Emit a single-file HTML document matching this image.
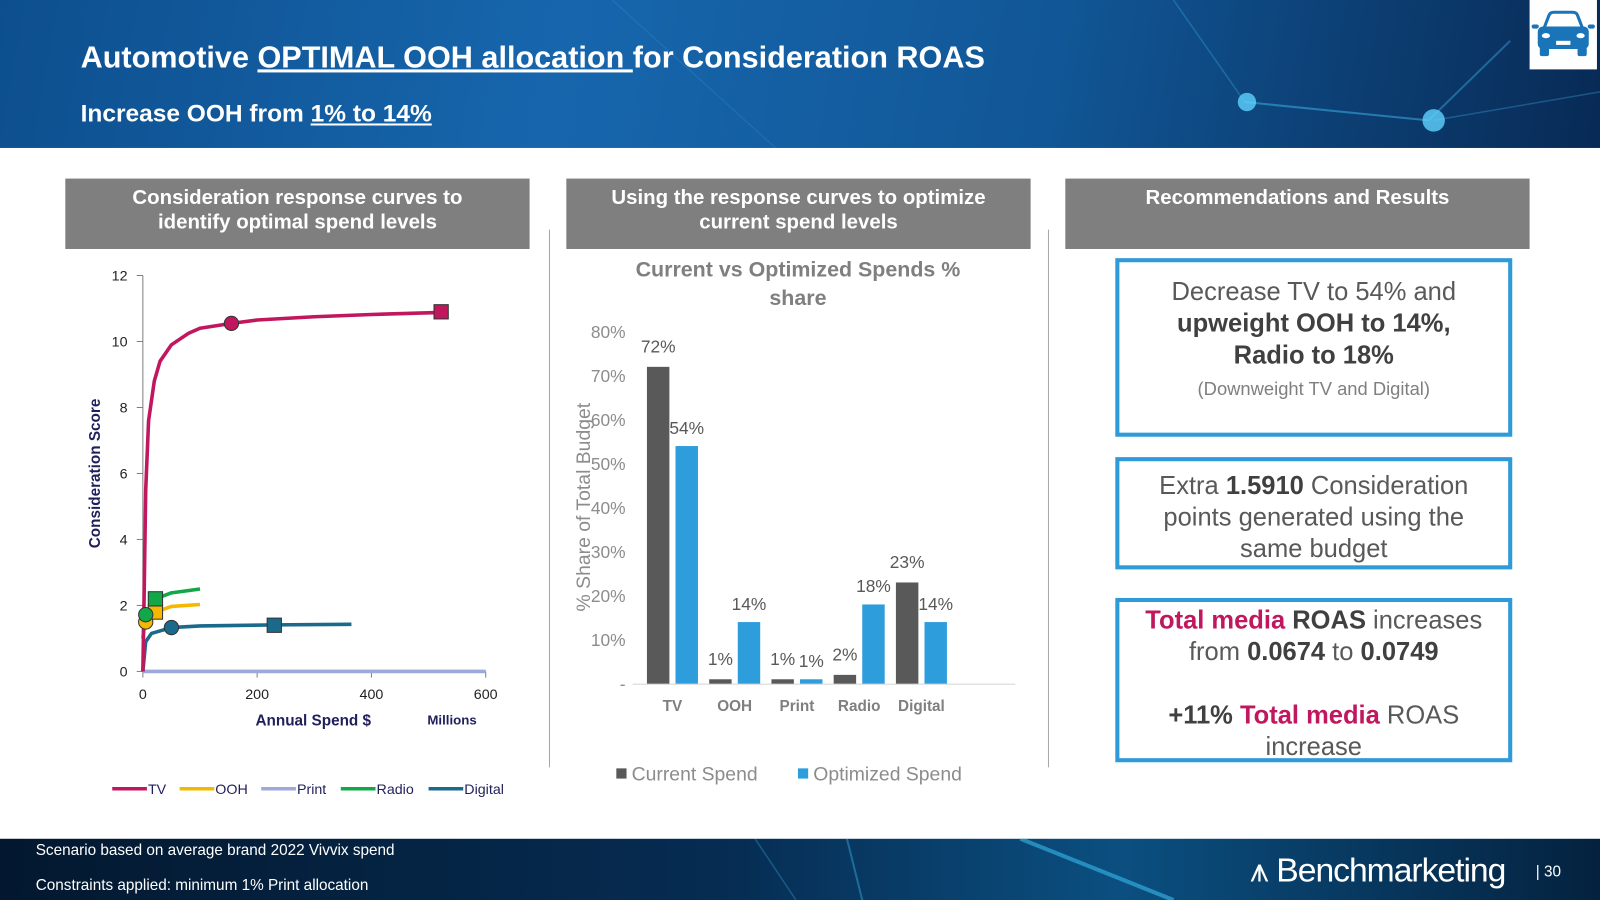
<!DOCTYPE html>
<html><head><meta charset="utf-8">
<style>
html,body{margin:0;padding:0;width:1600px;height:900px;overflow:hidden;background:#fff;font-family:"Liberation Sans",sans-serif;}
#wrap{position:absolute;left:0;top:0;width:1568px;height:882px;transform:scale(1.020408);transform-origin:0 0;}
.abs{position:absolute;}
.hdr{position:absolute;left:0;top:0;width:1568px;height:145px;background:linear-gradient(100deg,#0d4f8e 0%,#1766ad 35%,#115797 65%,#082a55 100%);overflow:hidden;}
.ghead{position:absolute;top:175px;height:69px;width:455px;background:#7f7f7f;color:#fff;font-weight:bold;font-size:20px;text-align:center;line-height:24px;padding-top:7px;box-sizing:border-box;}
.sep{position:absolute;top:225px;width:1px;height:527px;background:#a6a6a6;}
.rbox{position:absolute;left:1093px;width:389px;border:4px solid #2e9ad8;box-sizing:border-box;text-align:center;color:#595959;font-size:25px;line-height:31px;}
.foot{position:absolute;left:0;top:822px;width:1568px;height:60px;background:linear-gradient(90deg,#03182f 0%,#062c52 45%,#0b4f80 70%,#04223f 100%);color:#fff;overflow:hidden;}
b{font-weight:bold;color:#404040;}
.mag{color:#c0175e;font-weight:bold;}
</style></head><body>
<div id="wrap">
<div class="hdr">
  <svg width="1568" height="145" class="abs" style="left:0;top:0">
    <line x1="1220" y1="100" x2="1400" y2="118" stroke="#3fb8f0" stroke-width="2" opacity="0.5"/>
    <line x1="1400" y1="118" x2="1480" y2="40" stroke="#3fb8f0" stroke-width="2" opacity="0.4"/>
    <line x1="1220" y1="100" x2="1150" y2="0" stroke="#3fb8f0" stroke-width="1.5" opacity="0.3"/>
    <line x1="1405" y1="118" x2="1568" y2="90" stroke="#3fb8f0" stroke-width="1.5" opacity="0.3"/>
    <line x1="600" y1="0" x2="760" y2="145" stroke="#3fb8f0" stroke-width="1" opacity="0.2"/>
    <circle cx="1222" cy="100" r="9" fill="#5fd2ff" opacity="0.8"/>
    <circle cx="1405" cy="118" r="11" fill="#5fd2ff" opacity="0.8"/>
  </svg>
  <div class="abs" style="left:79px;top:40px;color:#fff;font-weight:bold;font-size:30px;white-space:nowrap">Automotive <span style="text-decoration:underline">OPTIMAL OOH allocation </span>for Consideration ROAS</div>
  <div class="abs" style="left:79px;top:98px;color:#fff;font-weight:bold;font-size:24px;white-space:nowrap">Increase OOH from <span style="text-decoration:underline">1% to 14%</span></div>
</div>
<div class="abs" style="left:1499px;top:0;width:66px;height:68px;background:#fff">
  <svg width="66" height="68" viewBox="0 0 66 68"><g fill="#1a74b8">
    <path d="M14 28 L19 15 Q20 12 24 12 L42 12 Q46 12 47 15 L52 28 Z" fill="none" stroke="#1a74b8" stroke-width="3"/>
    <rect x="8" y="26" width="50" height="22" rx="5"/>
    <rect x="10" y="46" width="9" height="9" rx="2"/><rect x="47" y="46" width="9" height="9" rx="2"/>
    <rect x="2" y="24" width="7" height="4" rx="2"/><rect x="57" y="24" width="7" height="4" rx="2"/>
    <ellipse cx="16" cy="35" rx="4" ry="2.5" fill="#fff"/><ellipse cx="50" cy="35" rx="4" ry="2.5" fill="#fff"/>
    <rect x="26" y="40" width="14" height="4" fill="#fff"/></g></svg>
</div>

<div class="ghead" style="left:64px">Consideration response curves to<br>identify optimal spend levels</div>
<div class="ghead" style="left:555px">Using the response curves to optimize<br>current spend levels</div>
<div class="ghead" style="left:1044px">Recommendations and Results</div>
<div class="sep" style="left:538px"></div>
<div class="sep" style="left:1027px"></div>

<svg id="lc" class="abs" style="left:0;top:0" width="560" height="820"></svg>
<svg id="bc" class="abs" style="left:0;top:0" width="1030" height="820"></svg>

<div class="rbox" style="top:253px;height:175px;padding-top:14px">Decrease TV to 54% and<br><b>upweight OOH to 14%,</b><br><b>Radio to 18%</b><br><span style="font-size:18px;line-height:22px;color:#7f7f7f">(Downweight TV and Digital)</span></div>
<div class="rbox" style="top:448px;height:110px;padding:9px 22px 0">Extra <b>1.5910</b> Consideration points generated using the same budget</div>
<div class="rbox" style="top:586px;height:161px;padding-top:3px"><span class="mag">Total media</span> <b>ROAS</b> increases from <b>0.0674</b> to <b>0.0749</b><br><br><b>+11%</b> <span class="mag">Total media</span> ROAS increase</div>

<div class="foot">
  <svg width="1568" height="60" class="abs" style="left:0;top:0">
    <line x1="1000" y1="0" x2="1150" y2="60" stroke="#3fd0ff" stroke-width="4" opacity="0.5"/>
    <line x1="830" y1="0" x2="845" y2="60" stroke="#3fb8f0" stroke-width="2" opacity="0.4"/>
    <line x1="740" y1="0" x2="780" y2="60" stroke="#3fb8f0" stroke-width="1.5" opacity="0.3"/>
  </svg>
  <div class="abs" style="left:35px;top:3px;font-size:15px">Scenario based on average brand 2022  Vivvix spend</div>
  <div class="abs" style="left:35px;top:37px;font-size:15px">Constraints applied: minimum  1% Print allocation</div>
  <div class="abs" style="left:1225px;top:12px;font-size:33px;letter-spacing:-1px;white-space:nowrap">⩚ Benchmarketing</div>
  <div class="abs" style="left:1505px;top:24px;font-size:15px">| 30</div>
</div>
</div>

<script>
const NS="http://www.w3.org/2000/svg";
function mk(p,t,a){const e=document.createElementNS(NS,t);for(const k in a)e.setAttribute(k,a[k]);p.appendChild(e);return e;}
// ---------- response curves ----------
const xTicks=[0,200,400,600];
const yTicks=[0,2,4,6,8,10,12];
const seriesNames=["TV","OOH","Print","Radio","Digital"];
const seriesColors=["#c0175e","#f5b800","#9fa8da","#12a84a","#1b6a8c"];
const tvX=[0,2,5,10,20,30,50,80,100,155,200,300,400,522];
const tvY=[0,2,5.5,7.6,8.8,9.4,9.9,10.25,10.4,10.55,10.65,10.75,10.82,10.88];
const oohX=[0,5,22,50,100];
const oohY=[1.2,1.5,1.8,1.97,2.03];
const printX=[0,600];
const printY=[0,0];
const radioX=[0,5,22,50,100];
const radioY=[1.0,1.72,2.2,2.38,2.5];
const digX=[0,5,15,50,100,230,365];
const digY=[0,0.9,1.15,1.33,1.38,1.41,1.43];
const circX=[155,5,null,5,50];
const circY=[10.55,1.5,null,1.72,1.33];
const sqX=[522,22,null,22,230];
const sqY=[10.9,1.8,null,2.2,1.4];
const lc=document.getElementById('lc');
const X=v=>140+v/600*336, Y=v=>658-v/12*388;
mk(lc,'line',{x1:140,y1:Y(12),x2:140,y2:Y(0),stroke:'#7f7f7f'});
mk(lc,'line',{x1:140,y1:Y(0),x2:476,y2:Y(0),stroke:'#7f7f7f'});
yTicks.forEach(t=>{mk(lc,'line',{x1:134,y1:Y(t),x2:140,y2:Y(t),stroke:'#7f7f7f'});
 const e=mk(lc,'text',{x:125,y:Y(t)+5,'text-anchor':'end','font-size':14,fill:'#222'});e.textContent=t;
 });
xTicks.forEach(t=>{mk(lc,'line',{x1:X(t),y1:Y(0),x2:X(t),y2:Y(0)+6,stroke:'#7f7f7f'});
 const e=mk(lc,'text',{x:X(t),y:685,'text-anchor':'middle','font-size':14,fill:'#222'});e.textContent=t;
 });
let e=mk(lc,'text',{x:307,y:711,'text-anchor':'middle','font-size':15,'font-weight':'bold',fill:'#1f1f5c'});e.textContent='Annual Spend $';

e=mk(lc,'text',{x:443,y:710,'text-anchor':'middle','font-size':13,'font-weight':'bold',fill:'#1f1f5c'});e.textContent='Millions';

e=mk(lc,'text',{x:0,y:0,'text-anchor':'middle','font-size':15,'font-weight':'bold',fill:'#1f1f5c',transform:'translate(98,464) rotate(-90)'});e.textContent='Consideration Score';

const allX=[tvX,oohX,printX,radioX,digX], allY=[tvY,oohY,printY,radioY,digY];
const order=[2,4,1,3,0];
order.forEach(i=>{
 const d=allX[i].map((x,j)=>(j?'L':'M')+X(x).toFixed(1)+' '+Y(allY[i][j]).toFixed(1)).join(' ');
 const p=mk(lc,'path',{d:d,fill:'none',stroke:seriesColors[i],'stroke-width':3.5,'stroke-linejoin':'round'});
 
});
order.forEach(i=>{
 if(sqX[i]!==null){const s=mk(lc,'rect',{x:X(sqX[i])-7,y:Y(sqY[i])-7,width:14,height:14,fill:seriesColors[i],stroke:'#333','stroke-width':1});
  }
 if(circX[i]!==null){const c=mk(lc,'circle',{cx:X(circX[i]),cy:Y(circY[i]),r:7,fill:seriesColors[i],stroke:'#333','stroke-width':1});
  }
});
const legX=[110,176,256,334,420];
seriesNames.forEach((n,i)=>{
 const g=mk(lc,'g',{});
 mk(g,'line',{x1:legX[i],y1:773,x2:legX[i]+34,y2:773,stroke:seriesColors[i],'stroke-width':3.5});
 const t=mk(g,'text',{x:legX[i]+35,y:778,'font-size':14,fill:'#1f1f5c'});t.textContent=n;
});
// ---------- bar chart ----------
const cats=["TV","OOH","Print","Radio","Digital"];
const currentVals=[72,1,1,2,23];
const optimizedVals=[54,14,1,18,14];
const pctTicks=[0,10,20,30,40,50,60,70,80];
const bc=document.getElementById('bc');
const BY=v=>670-v/80*345, CX=i=>659+i*61;
e=mk(bc,'text',{x:782,y:271,'text-anchor':'middle','font-size':21,'font-weight':'bold',fill:'#7f7f7f'});e.textContent='Current vs Optimized Spends %';

e=mk(bc,'text',{x:782,y:299,'text-anchor':'middle','font-size':21,'font-weight':'bold',fill:'#7f7f7f'});e.textContent='share';

pctTicks.forEach(t=>{const l=mk(bc,'text',{x:613,y:BY(t)+6,'text-anchor':'end','font-size':17,fill:'#8c8c8c'});l.textContent=t?t+'%':'-';
 });
mk(bc,'line',{x1:620,y1:670.5,x2:995,y2:670.5,stroke:'#d9d9d9'});
e=mk(bc,'text',{x:0,y:0,'text-anchor':'middle','font-size':19,fill:'#8c8c8c',transform:'translate(578,497) rotate(-90)'});e.textContent='% Share of Total Budget';

cats.forEach((c,i)=>{
 const r1=mk(bc,'rect',{x:CX(i)-25,y:BY(currentVals[i]),width:22,height:670-BY(currentVals[i]),fill:'#595959'});
 
 const r2=mk(bc,'rect',{x:CX(i)+3,y:BY(optimizedVals[i]),width:22,height:670-BY(optimizedVals[i]),fill:'#2e9ddc'});
 
 let t=mk(bc,'text',{x:CX(i)-14,y:BY(currentVals[i])-14,'text-anchor':'middle','font-size':17,fill:'#595959'});t.textContent=currentVals[i]+'%';
 
 t=mk(bc,'text',{x:CX(i)+14,y:BY(optimizedVals[i])-12,'text-anchor':'middle','font-size':17,fill:'#595959'});t.textContent=optimizedVals[i]+'%';
 
 t=mk(bc,'text',{x:CX(i),y:697,'text-anchor':'middle','font-size':15,'font-weight':'bold',fill:'#7f7f7f'});t.textContent=c;
 
});
let g=mk(bc,'g',{});
mk(g,'rect',{x:604,y:753,width:10,height:10,fill:'#595959'});
e=mk(g,'text',{x:619,y:765,'font-size':19,fill:'#8c8c8c'});e.textContent='Current Spend';
g=mk(bc,'g',{});
mk(g,'rect',{x:782,y:753,width:10,height:10,fill:'#2e9ddc'});
e=mk(g,'text',{x:797,y:765,'font-size':19,fill:'#8c8c8c'});e.textContent='Optimized Spend';
</script>
</body></html>
